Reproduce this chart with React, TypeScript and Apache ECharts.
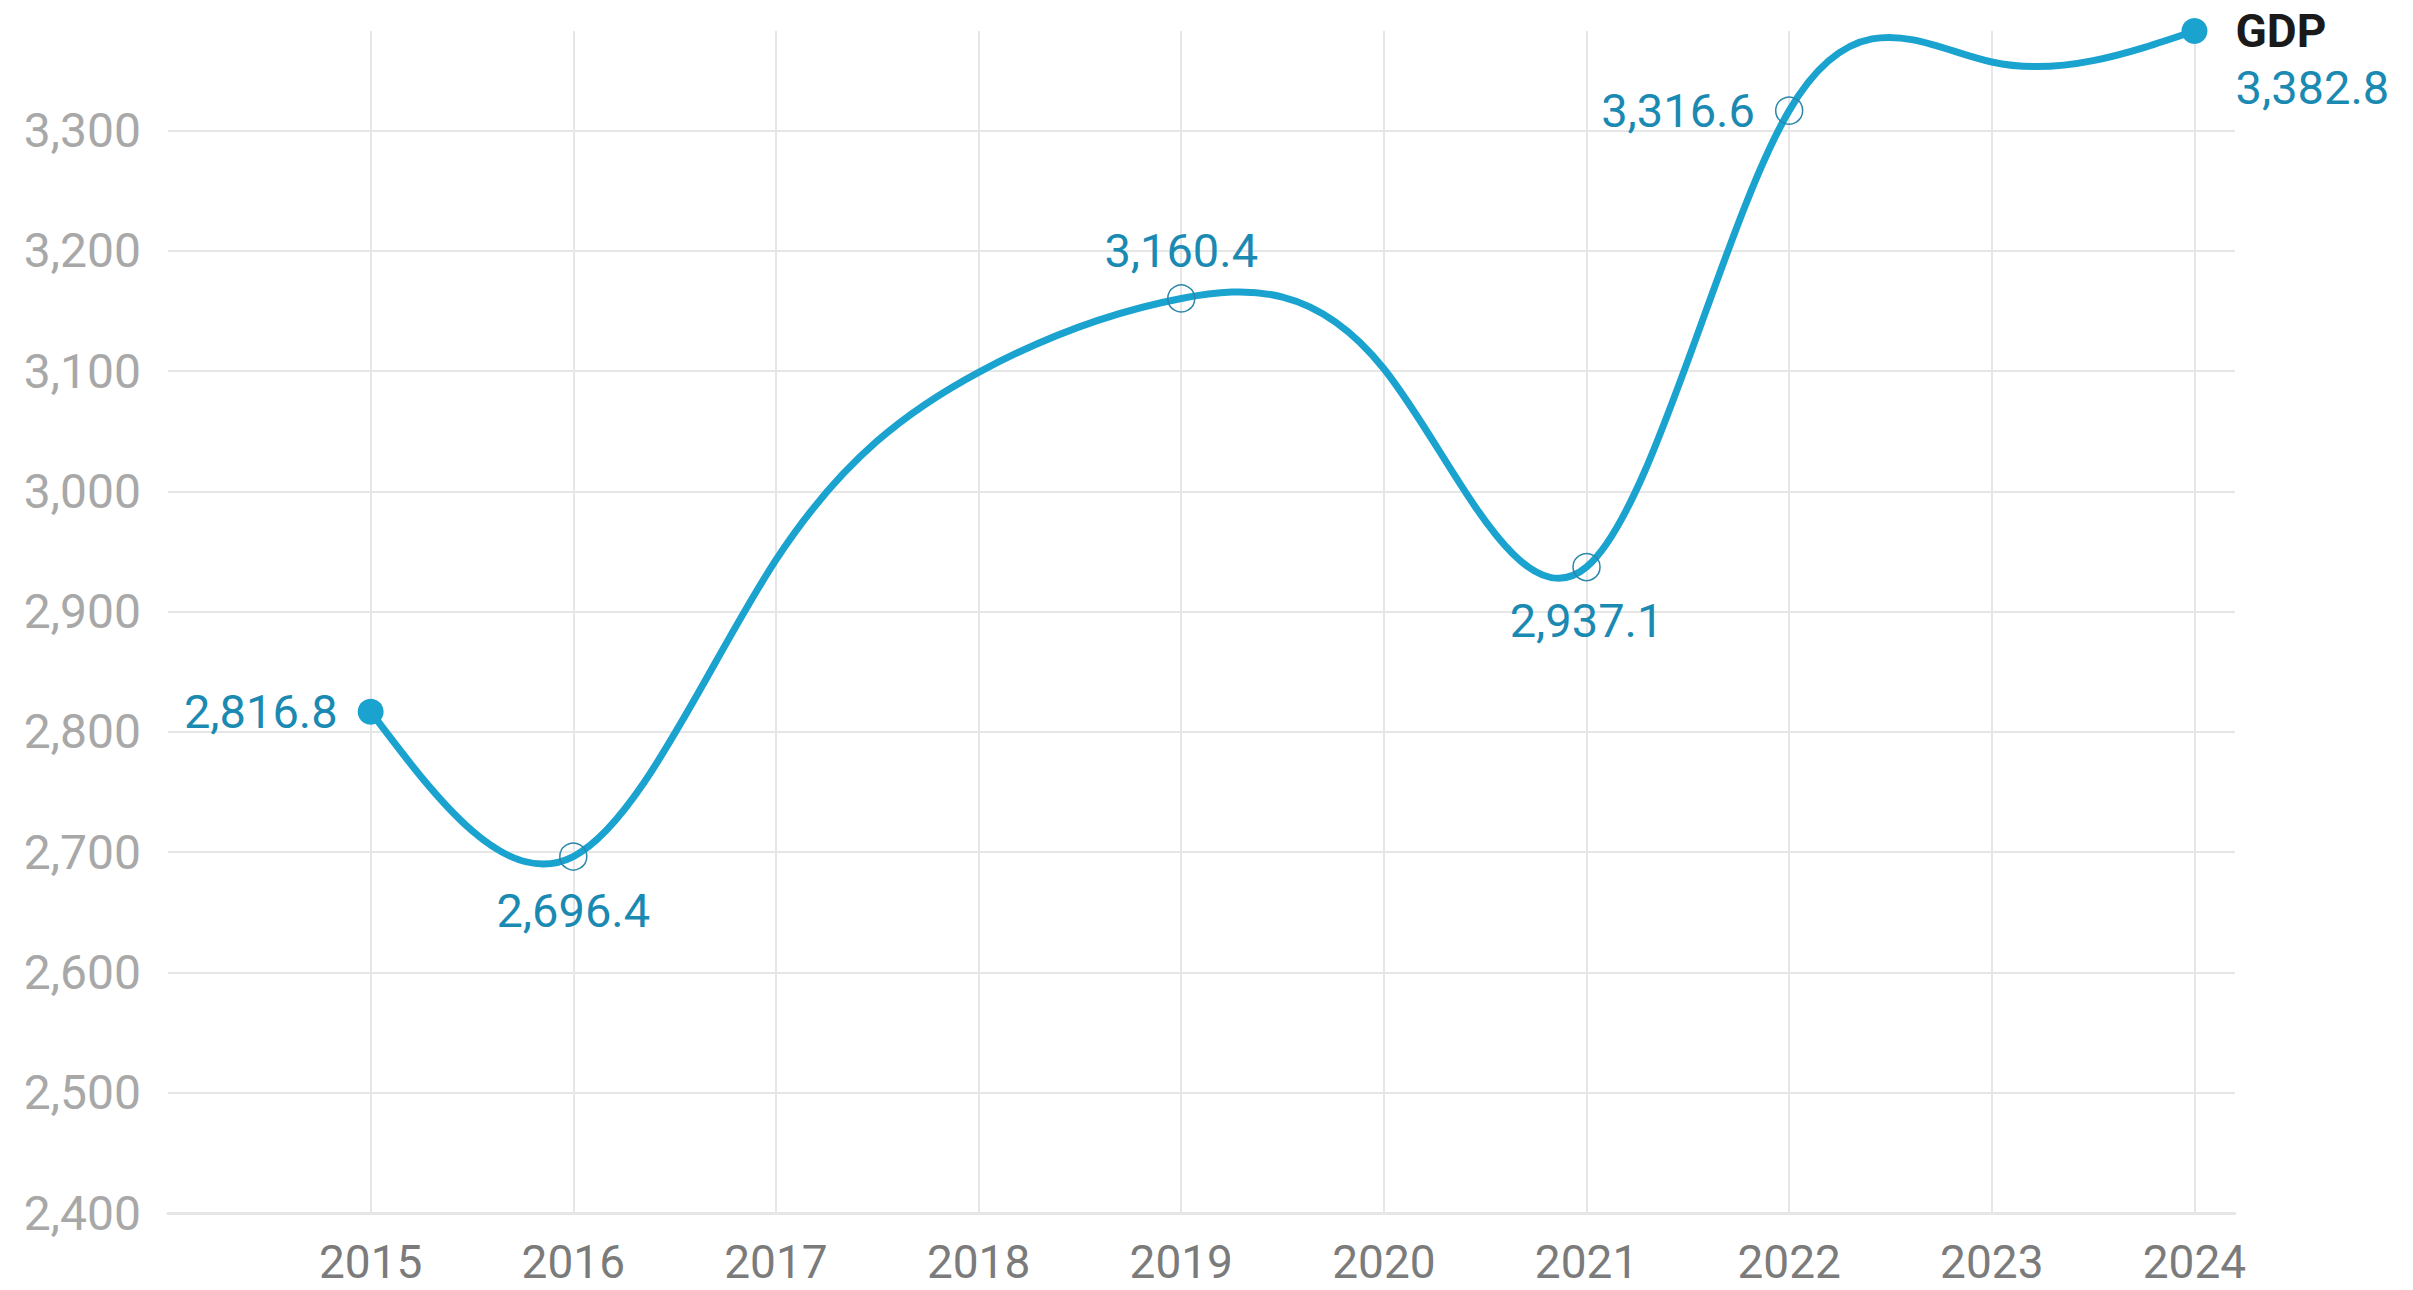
import React, { useEffect, useRef } from "react";
import * as echarts from "echarts";

// ---- data ----
const years: number[] = [2015, 2016, 2017, 2018, 2019, 2020, 2021, 2022, 2023, 2024];
const gdp: number[] = [2816.8, 2696.4, 2943, 3099, 3160.4, 3102, 2937.1, 3316.6, 3357, 3382.8];
const seriesName = "GDP";
const yMin = 2400;
const yStep = 100;
const xMin = 2014;
const xMax = 2024.2;

const FONT = "Roboto, 'Noto Sans', sans-serif";
const LINE = "#1ba3d0";
const LABEL = "#1a8ab2";
const GRID = "#e6e6e6";

const fmt = (v: number) =>
  v.toLocaleString("en-US", { minimumFractionDigits: 1, maximumFractionDigits: 1 });

const filledYears = [2015, 2024];
const hollowYears = [2016, 2019, 2021, 2022];
const labelPos: Record<number, string> = {
  2015: "left",
  2016: "bottom",
  2019: "top",
  2021: "bottom",
  2022: "left",
};

// natural cubic spline control points (same scheme as d3.curveNatural)
function controlPoints(x: number[]): [number[], number[]] {
  const n = x.length - 1;
  const a = new Array(n);
  const b = new Array(n);
  const r = new Array(n);
  a[0] = 0; b[0] = 2; r[0] = x[0] + 2 * x[1];
  for (let i = 1; i < n - 1; ++i) { a[i] = 1; b[i] = 4; r[i] = 4 * x[i] + 2 * x[i + 1]; }
  a[n - 1] = 2; b[n - 1] = 7; r[n - 1] = 8 * x[n - 1] + x[n];
  for (let i = 1; i < n; ++i) {
    const m = a[i] / b[i - 1];
    b[i] -= m;
    r[i] -= m * r[i - 1];
  }
  a[n - 1] = r[n - 1] / b[n - 1];
  for (let i = n - 2; i >= 0; --i) a[i] = (r[i] - a[i + 1]) / b[i];
  b[n - 1] = (x[n] + a[n - 1]) / 2;
  for (let i = 0; i < n - 1; ++i) b[i] = 2 * x[i + 1] - a[i + 1];
  return [a, b];
}

export default function App() {
  const ref = useRef<HTMLDivElement>(null);

  useEffect(() => {
    if (!ref.current) return;
    const chart = echarts.init(ref.current, null, { renderer: "svg" });
    const lastYear = years[years.length - 1];

    const data = years.map((yr, i) => {
      const v = gdp[i];
      const filled = filledYears.includes(yr);
      const hollow = hollowYears.includes(yr);
      const item: any = {
        value: [yr, v],
        symbol: filled || hollow ? "circle" : "none",
        symbolSize: filled ? 26 : 27,
        itemStyle: hollow
          ? { color: "rgba(255,255,255,0)", borderColor: "#2a86aa", borderWidth: 1.5 }
          : { color: LINE, borderWidth: 0 },
        label: { show: false },
      };
      if (labelPos[yr]) {
        const pos = labelPos[yr];
        item.label = {
          show: true,
          position: pos,
          distance: pos === "top" ? 10 : pos === "bottom" ? 16 : 20,
          formatter: () => fmt(v),
          color: LABEL,
          fontSize: 47,
          fontFamily: FONT,
        };
      } else if (yr === lastYear) {
        item.label = {
          show: true,
          position: "right",
          distance: 28,
          offset: [0, 28],
          formatter: () => `{n|${seriesName}}\n{v|${fmt(v)}}`,
          rich: {
            n: { fontSize: 46, fontWeight: "bold", color: "#1a1a1a", fontFamily: FONT, lineHeight: 56 },
            v: { fontSize: 47, color: LABEL, fontFamily: FONT, lineHeight: 56 },
          },
        };
      }
      return item;
    });

    const curveData = years.map((yr, i) => [yr, gdp[i]]);

    chart.setOption({
      animation: false,
      backgroundColor: "#ffffff",
      grid: { left: 168, right: 178, top: 31, bottom: 77, containLabel: false, outerBoundsMode: "none" },
      xAxis: {
        type: "value",
        min: xMin,
        max: xMax,
        interval: 1,
        axisLine: { show: true, onZero: false, lineStyle: { color: GRID, width: 3 } },
        axisTick: { show: false },
        axisLabel: {
          margin: 26,
          color: "#7b7b7b",
          fontSize: 46,
          fontFamily: FONT,
          showMinLabel: false,
          showMaxLabel: false,
          formatter: (val: number) =>
            Number.isInteger(val) && years.includes(val) ? String(val) : "",
        },
        splitLine: {
          show: true,
          showMinLine: false,
          showMaxLine: false,
          lineStyle: { color: GRID, width: 2 },
        },
      },
      yAxis: {
        type: "value",
        min: yMin,
        max: Math.max(...gdp),
        interval: yStep,
        axisLine: { show: false },
        axisTick: { show: false },
        axisLabel: {
          margin: 27,
          color: "#a8a8a8",
          fontSize: 48,
          fontFamily: FONT,
          showMaxLabel: false,
          formatter: (val: number) =>
            val % yStep === 0 ? val.toLocaleString("en-US") : "",
        },
        splitLine: {
          show: true,
          showMinLine: false,
          showMaxLine: false,
          lineStyle: { color: GRID, width: 2 },
        },
      },
      series: [
        {
          type: "custom",
          name: seriesName + " curve",
          data: curveData,
          encode: { x: 0, y: 1 },
          clip: false,
          silent: true,
          z: 2,
          renderItem: (params: any, api: any) => {
            if (params.dataIndex !== 0) return null;
            const pts = curveData.map((d) => api.coord(d));
            const xs = pts.map((p: number[]) => p[0]);
            const ys = pts.map((p: number[]) => p[1]);
            const px = controlPoints(xs);
            const py = controlPoints(ys);
            let d = `M${xs[0]},${ys[0]}`;
            for (let i = 0; i < xs.length - 1; i++) {
              d += ` C${px[0][i]},${py[0][i]} ${px[1][i]},${py[1][i]} ${xs[i + 1]},${ys[i + 1]}`;
            }
            return {
              type: "path",
              shape: { pathData: d },
              style: { fill: "none", stroke: LINE, lineWidth: 7, lineCap: "round", lineJoin: "round" },
            };
          },
        },
        {
          name: seriesName,
          type: "line",
          clip: false,
          showSymbol: true,
          lineStyle: { color: LINE, width: 0, opacity: 0 },
          itemStyle: { color: LINE },
          emphasis: { disabled: true },
          data,
          z: 3,
        },
      ],
    });

    return () => chart.dispose();
  }, []);

  return (
    <div
      ref={ref}
      style={{ position: "fixed", left: 0, top: 0, width: 2413, height: 1290, background: "#fff" }}
    />
  );
}
